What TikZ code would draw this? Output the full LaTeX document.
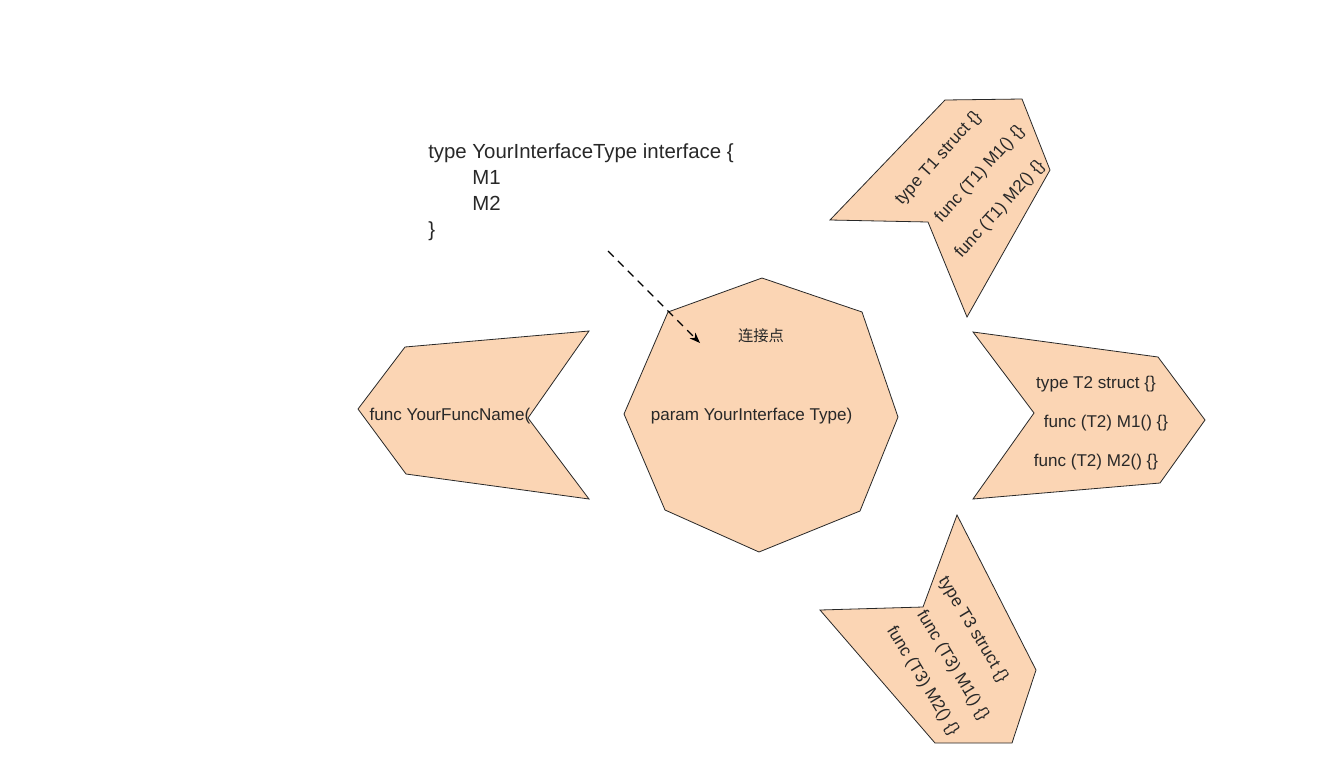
\documentclass[tikz,border=0pt]{standalone}
\usepackage{fontspec}
\setmainfont{Liberation Sans}
\newfontfamily\cjk{Noto Sans CJK SC}
\usetikzlibrary{arrows.meta}
\definecolor{peach}{RGB}{251,213,180}
\definecolor{ink}{RGB}{40,40,40}
\begin{document}
\begin{tikzpicture}[x=0.75pt,y=-0.75pt,
  shapebox/.style={draw=ink, fill=peach, line width=0.6pt, line join=miter},
  lbl/.style={text=ink, font=\fontsize{12.8}{15}\selectfont, inner sep=0pt},
  code/.style={text=ink, font=\fontsize{15.3}{18}\selectfont, inner sep=0pt, anchor=base west},
  conn/.style={draw=black, line width=0.9pt, dash pattern=on 6pt off 4.5pt, -{Stealth[length=8pt,width=6pt]}}]
\useasboundingbox (0,0) rectangle (1321,772);
\fill[white] (0,0) rectangle (1321,772);

% interface text
\node[code] (c1) at (428,158) {type YourInterfaceType interface \{};
\node[code] (c2) at (472,184) {M1};
\node[code] (c3) at (472,210) {M2};
\node[code] (c4) at (428,236) {\}};

% left chevron
\draw[shapebox] (405,347) -- (589,331) -- (528,418) -- (589,499) -- (406,474) -- (358,409) -- cycle;
\node[lbl] (fn) at (450,416) {func YourFuncName(};

% octagon
\draw[shapebox] (762,278) -- (862,312) -- (898,417) -- (860,511) -- (759,552) -- (665,510) -- (624,414) -- (668,312) -- cycle;
\node[lbl] (param) at (751.5,416) {param YourInterface Type)};
\node[lbl, font=\cjk\fontsize{11.5}{14}\selectfont] (lj) at (761,336) {连接点};

% T1
\draw[shapebox] (945,100) -- (1022,99) -- (1050,170) -- (967,317) -- (928,222) -- (830,220) -- cycle;
\node[lbl, rotate=48] (t1a) at (938.5,158.5) {type T1 struct \{\}};
\node[lbl, rotate=48] (t1b) at (980,174) {func (T1) M1() \{\}};
\node[lbl, rotate=48] (t1c) at (1000,209.5) {func (T1) M2() \{\}};

% T2
\draw[shapebox] (973,332) -- (1158,357) -- (1205,420) -- (1160,483) -- (973,499) -- (1034,413) -- cycle;
\node[lbl] (t2a) at (1096,384) {type T2 struct \{\}};
\node[lbl] (t2b) at (1106,423) {func (T2) M1() \{\}};
\node[lbl] (t2c) at (1096,462) {func (T2) M2() \{\}};

% T3
\draw[shapebox] (957,515) -- (1036,670) -- (1012,743) -- (935,743) -- (820,610) -- (923,607) -- cycle;
\node[lbl, rotate=-59] (t3a) at (973,629.5) {type T3 struct \{\}};
\node[lbl, rotate=-59] (t3b) at (952.5,665.5) {func (T3) M1() \{\}};
\node[lbl, rotate=-59] (t3c) at (922.5,681) {func (T3) M2() \{\}};

% dashed arrow
\coordinate (aS) at (608,251);
\coordinate (aE) at (700,343);
\draw[conn] (aS) -- (aE);
\end{tikzpicture}
\end{document}
